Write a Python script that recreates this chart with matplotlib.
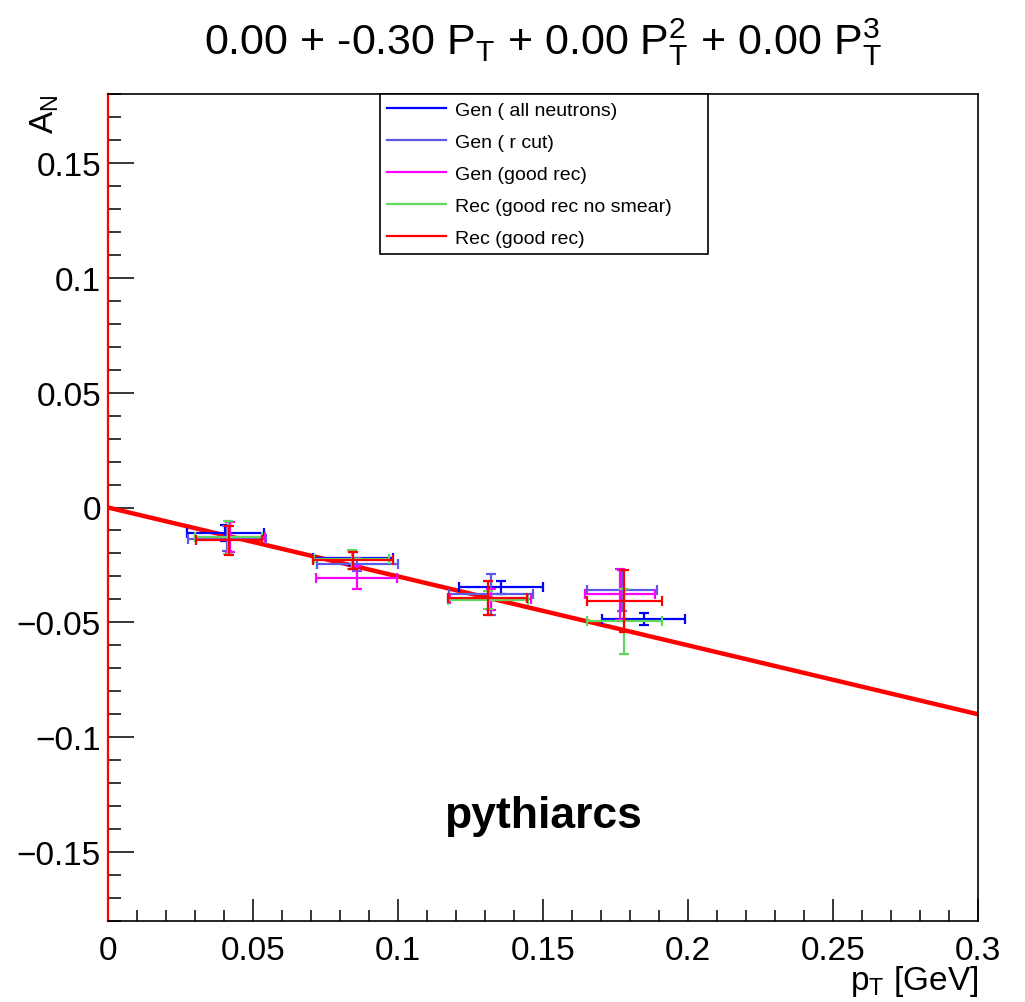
import numpy as np
import matplotlib
matplotlib.use("Agg")
import matplotlib.pyplot as plt
from matplotlib.lines import Line2D
from matplotlib.ticker import MultipleLocator

plt.rcParams['font.family'] = ['Liberation Sans', 'DejaVu Sans']
plt.rcParams['mathtext.default'] = 'regular'

# fit coefficients p0 + p1 x + p2 x^2 + p3 x^3
fit_pars = [0.00, -0.30, 0.00, 0.00]

labels = ['Gen ( all neutrons)', 'Gen ( r cut)', 'Gen (good rec)',
          'Rec (good rec no smear)', 'Rec (good rec)']
colors = ['#0000ff', '#5a5ae6', '#ff00ff', '#5fd85f', '#ff0000']

# Gen (all neutrons)
gen_all_x = [0.0405, 0.0845, 0.1355, 0.1847]
gen_all_xerr = [0.0133, 0.0138, 0.0145, 0.0143]
gen_all_y = [-0.0113, -0.0222, -0.0348, -0.0487]
gen_all_yerr = [0.0035, 0.0030, 0.0030, 0.0026]

# Gen (r cut)
gen_rcut_x = [0.0410, 0.0860, 0.1320, 0.1772]
gen_rcut_xerr = [0.0135, 0.0140, 0.0145, 0.0120]
gen_rcut_y = [-0.0135, -0.0248, -0.0378, -0.0361]
gen_rcut_yerr = [0.0054, 0.0030, 0.0090, 0.0090]

# Gen (good rec)
gen_good_x = [0.0420, 0.0857, 0.1320, 0.1766]
gen_good_xerr = [0.0120, 0.0140, 0.0140, 0.0120]
gen_good_y = [-0.0130, -0.0305, -0.0400, -0.0378]
gen_good_yerr = [0.0065, 0.0050, 0.0045, 0.0110]

# Rec (good rec no smear)
rec_nosm_x = [0.0415, 0.0840, 0.1310, 0.1780]
rec_nosm_xerr = [0.0115, 0.0130, 0.0138, 0.0130]
rec_nosm_y = [-0.0130, -0.0226, -0.0404, -0.0496]
rec_nosm_yerr = [0.0072, 0.0043, 0.0040, 0.0143]

# Rec (good rec)
rec_good_x = [0.0417, 0.0845, 0.1309, 0.1780]
rec_good_xerr = [0.0114, 0.0138, 0.0136, 0.0130]
rec_good_y = [-0.0143, -0.0230, -0.0396, -0.0407]
rec_good_yerr = [0.0063, 0.0037, 0.0074, 0.0137]

series = [
    (gen_all_x, gen_all_xerr, gen_all_y, gen_all_yerr),
    (gen_rcut_x, gen_rcut_xerr, gen_rcut_y, gen_rcut_yerr),
    (gen_good_x, gen_good_xerr, gen_good_y, gen_good_yerr),
    (rec_nosm_x, rec_nosm_xerr, rec_nosm_y, rec_nosm_yerr),
    (rec_good_x, rec_good_xerr, rec_good_y, rec_good_yerr),
]

fig = plt.figure(figsize=(10.25, 10.03), dpi=100)
ax = fig.add_axes([108/1025, 1 - 922/1003, 870/1025, 827/1003])

# fit curve
xf = np.linspace(0, 0.3, 300)
yf = sum(p * xf**i for i, p in enumerate(fit_pars))
ax.plot(xf, yf, color='red', lw=3.2, zorder=2)

for (x, xe, y, ye), c in zip(series, colors):
    ax.errorbar(x, y, xerr=xe, yerr=ye, fmt='none', ecolor=c, elinewidth=1.6,
                capsize=3.5, capthick=1.6, zorder=3)

ax.set_xlim(0, 0.3)
ax.set_ylim(-0.18, 0.18)
ax.xaxis.set_major_locator(MultipleLocator(0.05))
ax.xaxis.set_minor_locator(MultipleLocator(0.01))
ax.yaxis.set_major_locator(MultipleLocator(0.05))
ax.yaxis.set_minor_locator(MultipleLocator(0.01))
ax.set_xticks([0, 0.05, 0.1, 0.15, 0.2, 0.25, 0.3])
ax.set_xticklabels(['0', '0.05', '0.1', '0.15', '0.2', '0.25', '0.3'])
ax.set_yticks([-0.15, -0.1, -0.05, 0, 0.05, 0.1, 0.15])
ax.set_yticklabels(['\u22120.15', '\u22120.1', '\u22120.05', '0', '0.05', '0.1', '0.15'])

ax.tick_params(axis='x', which='major', direction='in', length=16, width=1.1,
               labelsize=24, pad=10, top=False)
ax.tick_params(axis='x', which='minor', direction='in', length=8, width=1.1, top=False)
ax.tick_params(axis='y', which='major', direction='in', length=19, width=1.1,
               labelsize=24, pad=5, right=False)
ax.tick_params(axis='y', which='minor', direction='in', length=9.5, width=1.1, right=False)
for s in ax.spines.values():
    s.set_linewidth(1.2)
ax.spines['left'].set_color('red')
ax.spines['left'].set_linewidth(1.6)

handles = [Line2D([], [], color=c, lw=1.6) for c in colors]
leg = ax.legend(handles, labels, loc='upper left', bbox_to_anchor=(0.313, 0.81, 0.377, 0.19),
                mode='expand', borderaxespad=0, fontsize=14, handlelength=3.0,
                handletextpad=0.5, labelspacing=0.74, borderpad=0.36,
                fancybox=False, framealpha=1, edgecolor='black')
leg.get_frame().set_linewidth(1.2)

ax.text(0.15, -0.134, 'pythiarcs', ha='center', va='center', fontsize=32,
        fontweight='bold')

fig.text(0.53, 1 - 42/1003, r'0.00 + -0.30 P$_{T}$ + 0.00 P$_{T}^{2}$ + 0.00 P$_{T}^{3}$',
         ha='center', va='center', fontsize=31)
fig.text(45/1025, 1 - 95/1003, r'A$_{N}$', rotation=90, ha='center', va='top', fontsize=24)
fig.text(978/1025, 1 - 982/1003, r'p$_{T}$ [GeV]', ha='right', va='center', fontsize=24)

fig.savefig('out.png', dpi=100)
